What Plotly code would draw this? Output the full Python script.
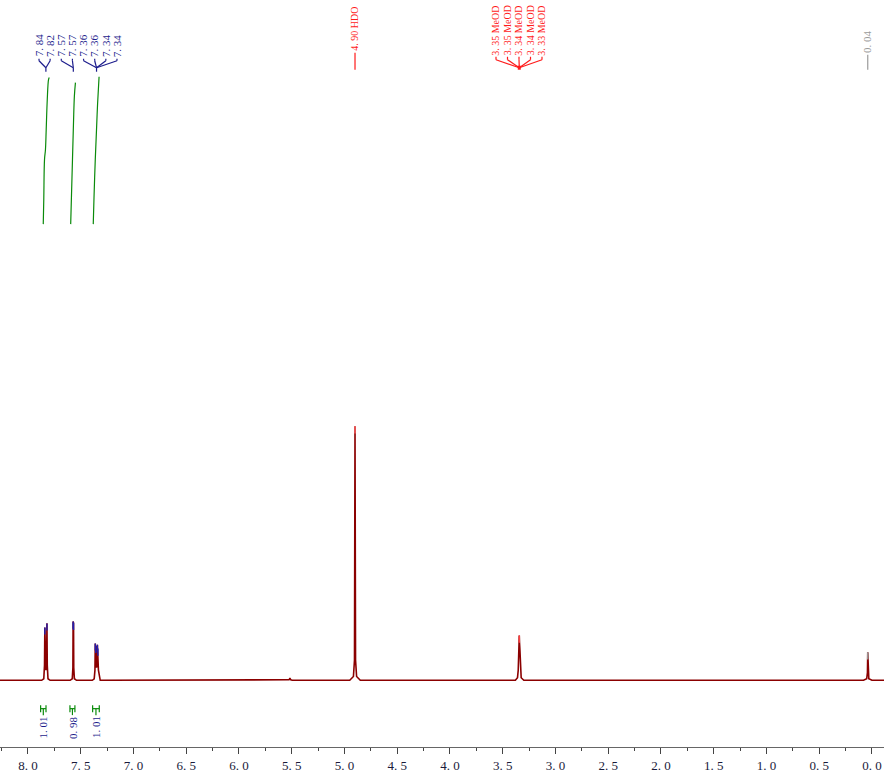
import plotly.graph_objects as go

# ---------------- data ----------------
# 1H spectrum trace: chemical shift (ppm) and relative intensity (HDO peak = 1)
spec_ppm = [8.27, 7.870, 7.850, 7.843, 7.840, 7.837, 7.830, 7.823, 7.820, 7.817, 7.810, 7.790,
            7.600, 7.580, 7.574, 7.572, 7.570, 7.568, 7.566, 7.560, 7.540,
            7.390, 7.372, 7.365, 7.362, 7.360, 7.357, 7.350, 7.345, 7.342, 7.340, 7.337, 7.332, 7.315,
            5.540, 5.525, 5.517, 5.509, 5.495,
            4.950, 4.915, 4.905, 4.900, 4.895, 4.885, 4.850,
            3.380, 3.360, 3.353, 3.349, 3.345, 3.343, 3.341, 3.337, 3.333, 3.325, 3.300,
            0.080, 0.050, 0.043, 0.040, 0.037, 0.030, 0.000, -0.114]
spec_int = [0.0, 0.0, 0.006, 0.06, 0.208, 0.06, 0.04, 0.07, 0.224, 0.06, 0.006, 0.0,
            0.0, 0.006, 0.05, 0.231, 0.20, 0.226, 0.05, 0.006, 0.0,
            0.0, 0.006, 0.04, 0.145, 0.10, 0.135, 0.05, 0.06, 0.14, 0.10, 0.125, 0.04, 0.0,
            0.0, 0.002, 0.008, 0.002, 0.0,
            0.0, 0.015, 0.08, 1.0, 0.08, 0.015, 0.0,
            0.0, 0.01, 0.04, 0.12, 0.15, 0.176, 0.15, 0.12, 0.04, 0.01, 0.0,
            0.0, 0.006, 0.03, 0.11, 0.03, 0.006, 0.0, 0.0]

# picked peaks (groups)
arom_peaks = [7.840, 7.820, 7.572, 7.568, 7.362, 7.357, 7.342, 7.337]
arom_heights = [0.208, 0.224, 0.231, 0.226, 0.145, 0.135, 0.14, 0.125]
arom_labels = ["7. 84", "7. 82", "7. 57", "7. 57", "7. 36", "7. 36", "7. 34", "7. 34"]
arom_groups = [0, 0, 1, 1, 2, 2, 2, 2]
arom_group_ppm = [7.830, 7.570, 7.350]

meod_peaks = [3.349, 3.345, 3.343, 3.341, 3.337]
meod_labels = ["3. 35 MeOD", "3. 35 MeOD", "3. 34 MeOD", "3. 34 MeOD", "3. 33 MeOD"]
meod_group_ppm = 3.343

hdo_peak, hdo_height, hdo_label = 4.900, 1.0, "4. 90 HDO"
tms_peak, tms_height, tms_label = 0.040, 0.11, "0. 04"

# integrals
int_from = [7.880, 7.602, 7.387]
int_to = [7.829, 7.555, 7.324]
int_values = ["1. 01", "0. 98", "1. 01"]
int_curve_ppm = [[7.855, 7.850, 7.843, 7.834, 7.827, 7.817, 7.805, 7.798],
                 [7.595, 7.588, 7.578, 7.568, 7.560, 7.550],
                 [7.381, 7.374, 7.362, 7.350, 7.340, 7.326]]
int_curve_y = [[1.796, 1.894, 2.051, 2.090, 2.169, 2.286, 2.365, 2.373],
               [1.796, 1.90, 2.05, 2.20, 2.30, 2.353],
               [1.796, 1.90, 2.05, 2.17, 2.27, 2.376]]

tick_vals = [8.0, 7.5, 7.0, 6.5, 6.0, 5.5, 5.0, 4.5, 4.0, 3.5, 3.0, 2.5, 2.0, 1.5, 1.0, 0.5, 0.0]
tick_text = ["8. 0", "7. 5", "7. 0", "6. 5", "6. 0", "5. 5", "5. 0", "4. 5", "4. 0",
             "3. 5", "3. 0", "2. 5", "2. 0", "1. 5", "1. 0", "0. 5", "0. 0"]

# ---------------- layout helpers ----------------
W, H = 884, 773
PLOT_BOTTOM = 750
X_RANGE = [8.265, -0.114]
Y_RANGE = [-0.2627, 2.6784]

def px2ppm(px):
    return X_RANGE[0] + (X_RANGE[1] - X_RANGE[0]) * px / W

def py2paper(py):
    return (PLOT_BOTTOM - py) / PLOT_BOTTOM

FONT = "Liberation Serif"
NAVY = "#1c1c8c"
RED = "#ff1a1a"
GRAY = "#9a9a9a"
GREEN = "#0a8a0a"
TRACE = "#8b0000"

fig = go.Figure()

fig.add_trace(go.Scatter(x=spec_ppm, y=spec_int, mode="lines",
                         line=dict(color=TRACE, width=1.6), hoverinfo="skip", showlegend=False))

# peak-top markers
def top_marks(peaks, heights, color):
    xs, ys = [], []
    for p, h in zip(peaks, heights):
        xs += [p, p, None]
        ys += [h, h - 0.028, None]
    fig.add_trace(go.Scatter(x=xs, y=ys, mode="lines", line=dict(color=color, width=1.4),
                             hoverinfo="skip", showlegend=False))

top_marks(arom_peaks, arom_heights, "#2020b0")
top_marks([hdo_peak], [hdo_height], "#ff6060")
top_marks([3.343], [0.176], "#ff4040")
top_marks([tms_peak], [tms_height], GRAY)

# integral curves
for cx, cy in zip(int_curve_ppm, int_curve_y):
    fig.add_trace(go.Scatter(x=cx, y=cy, mode="lines", line=dict(color=GREEN, width=1.2),
                             line_shape="spline", hoverinfo="skip", showlegend=False))

annotations = []
shapes = []

def seg(x0, y0, x1, y1, color, width=1.2):
    shapes.append(dict(type="line", xref="x", yref="paper", x0=x0, x1=x1,
                       y0=py2paper(y0), y1=py2paper(y1), line=dict(color=color, width=width)))

def label(xppm, py_bottom, text, color, size=11):
    annotations.append(dict(x=xppm, y=py2paper(py_bottom), xref="x", yref="paper",
                            text=text, textangle=-90, showarrow=False,
                            xanchor="center", yanchor="bottom",
                            font=dict(family=FONT, size=size, color=color), borderpad=0))

# aromatic labels
for i, (lab, g) in enumerate(zip(arom_labels, arom_groups)):
    lx = px2ppm(39 + i * 11.14)
    label(lx, 58, lab, NAVY)
    gx = arom_group_ppm[g]
    seg(lx, 59, lx, 61, NAVY)
    seg(lx, 61, gx, 68, NAVY)
for gx in arom_group_ppm:
    seg(gx, 68, gx, 72, NAVY)

# MeOD labels
for i, lab in enumerate(meod_labels):
    lx = px2ppm(496 + i * 11.5)
    label(lx, 57, lab, RED, 10)
    seg(lx, 57, lx, 60, RED)
    seg(lx, 60, meod_group_ppm, 68, RED)
seg(meod_group_ppm, 66, meod_group_ppm, 70, RED, 3)

# HDO / TMS labels
label(hdo_peak, 52, hdo_label, RED, 10)
seg(hdo_peak, 53, hdo_peak, 70, RED)
label(tms_peak, 54, tms_label, GRAY)
seg(tms_peak, 55, tms_peak, 70, GRAY)

# integral brackets and values
for a, b, v in zip(int_from, int_to, int_values):
    c = (a + b) / 2
    seg(a, 711.5, b, 711.5, GREEN)
    seg(a, 708, a, 715, GREEN)
    seg(b, 708, b, 715, GREEN)
    seg(c, 711.5, c, 718, GREEN)
    annotations.append(dict(x=c, y=py2paper(718), xref="x", yref="paper", text=v,
                            textangle=-90, showarrow=False, xanchor="center", yanchor="top",
                            font=dict(family=FONT, size=11, color=NAVY), borderpad=0))

fig.update_layout(
    width=W, height=H,
    margin=dict(l=0, r=0, t=0, b=H - PLOT_BOTTOM),
    paper_bgcolor="white", plot_bgcolor="white",
    showlegend=False,
    annotations=annotations, shapes=shapes,
    xaxis=dict(range=X_RANGE, tickmode="array", tickvals=tick_vals, ticktext=tick_text,
               ticks="outside", ticklen=6, tickwidth=1, tickcolor="#444",
               showline=True, linecolor="#666", linewidth=1,
               showgrid=False, zeroline=False,
               tickfont=dict(family=FONT, size=13, color="#1a1a3a"),
               minor=dict(tickmode="linear", tick0=0, dtick=0.25, ticks="outside",
                          ticklen=3, tickcolor="#444", showgrid=False)),
    yaxis=dict(range=Y_RANGE, visible=False, showgrid=False, zeroline=False),
)

fig.write_html("out.html", config={"displayModeBar": False},
               post_script="document.body.style.margin='0';document.body.style.overflow='hidden';")
